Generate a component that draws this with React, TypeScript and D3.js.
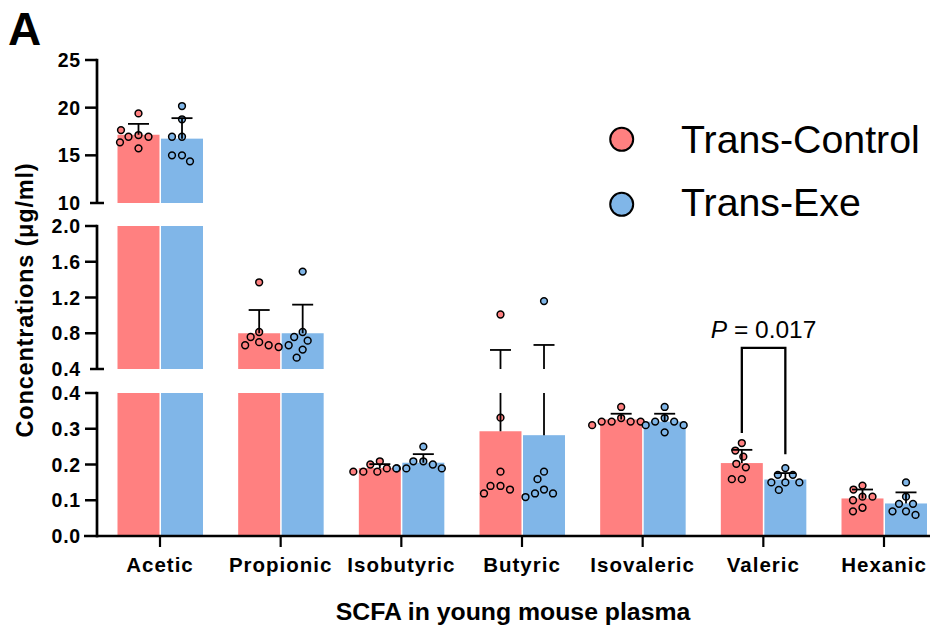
import React from "react";
import * as d3 from "d3";

const categories = ["Acetic", "Propionic", "Isobutyric", "Butyric", "Isovaleric", "Valeric", "Hexanic"];
const seriesNames = ["Trans-Control", "Trans-Exe"];
const seriesColors = ["#FF8080", "#80B6E8"];

const controlMean = [17.16, 0.8, 0.19, 0.293, 0.326, 0.204, 0.105];
const exeMean = [16.75, 0.8, 0.205, 0.282, 0.32, 0.158, 0.091];
const controlSD = [1.14, 0.26, 0.011, 0.32, 0.016, 0.037, 0.025];
const exeSD = [2.15, 0.32, 0.024, 0.387, 0.022, 0.018, 0.031];

const controlPoints = [
  [19.4, 17.13, 16.95, 16.95, 17.65, 16.36, 15.73],
  [1.37, 0.814, 0.758, 0.7, 0.666, 0.666, 0.646],
  [0.209, 0.2, 0.189, 0.189, 0.18, 0.18, 0.18],
  [1.01, 0.331, 0.18, 0.14, 0.14, 0.13, 0.119],
  [0.361, 0.33, 0.32, 0.32, 0.32, 0.32, 0.31],
  [0.26, 0.239, 0.222, 0.202, 0.192, 0.159, 0.159],
  [0.141, 0.13, 0.11, 0.11, 0.1, 0.079, 0.069],
];
const exePoints = [
  [20.17, 18.78, 16.95, 16.95, 15.0, 15.0, 14.37],
  [1.49, 0.814, 0.758, 0.717, 0.666, 0.617, 0.527],
  [0.25, 0.209, 0.209, 0.2, 0.189, 0.189, 0.189],
  [1.16, 0.18, 0.159, 0.13, 0.119, 0.119, 0.109],
  [0.361, 0.33, 0.32, 0.32, 0.31, 0.31, 0.29],
  [0.19, 0.171, 0.171, 0.15, 0.15, 0.15, 0.129],
  [0.15, 0.11, 0.09, 0.09, 0.069, 0.069, 0.059],
];

const topTicks = [10, 15, 20, 25];
const midTicks = [0.4, 0.8, 1.2, 1.6, 2.0];
const botTicks = [0, 0.1, 0.2, 0.3, 0.4];

const pValueLabel = "0.017";
const pCategory = "Valeric";
const bracketLeft = 0.288;
const bracketRight = 0.229;
const bracketTop = 0.526;

const FONT = "'Liberation Sans', Arial, Helvetica, sans-serif";

const yTop = d3.scaleLinear().domain([10, 25]).range([203, 60]);
const yMid = d3.scaleLinear().domain([0.4, 2.0]).range([369, 226]);
const yBot = d3.scaleLinear().domain([0, 0.4]).range([536, 393]);

const segments = [
  { lo: 0, hi: 0.4, s: yBot },
  { lo: 0.4, hi: 2.0, s: yMid },
  { lo: 10, hi: 25, s: yTop },
];

function yPix(v: number) {
  if (v <= 0.4) return yBot(v);
  if (v <= 2.0) return yMid(v);
  return yTop(v);
}

function spans(v0: number, v1: number) {
  const out: { y0: number; y1: number }[] = [];
  segments.forEach((seg) => {
    const a = Math.max(v0, seg.lo);
    const b = Math.min(v1, seg.hi);
    if (b > a) out.push({ y0: seg.s(a), y1: seg.s(b) });
  });
  return out;
}

function swarm(values: number[], D: number) {
  const placed: { dx: number; y: number }[] = [];
  values.forEach((v) => {
    const y = yPix(v);
    let best = 0;
    for (let k = 0; k < 60; k += 0.5) {
      let found = false;
      for (const cand of k === 0 ? [0] : [-k, k]) {
        const ok = placed.every((p) => (p.dx - cand) ** 2 + (p.y - y) ** 2 >= D * D);
        if (ok) {
          best = cand;
          found = true;
          break;
        }
      }
      if (found) break;
    }
    placed.push({ dx: best, y });
  });
  return placed;
}

export default function App() {
  const x = d3.scalePoint<string>().domain(categories).range([160, 884]);
  const inner = d3.scaleBand<number>().domain([0, 1]).range([-42.5, 43]).paddingInner(0.035);
  const bw = inner.bandwidth();

  const means = [controlMean, exeMean];
  const sds = [controlSD, exeSD];
  const pts = [controlPoints, exePoints];

  const axisW = 2.7;
  const axisX = 97;

  const yAxes = [
    { s: yTop, ticks: topTicks, fmt: (d: number) => d3.format("d")(d) },
    { s: yMid, ticks: midTicks, fmt: (d: number) => d3.format(".1f")(d) },
    { s: yBot, ticks: botTicks, fmt: (d: number) => d3.format(".1f")(d) },
  ];

  const pc = x(pCategory)!;
  const lx = pc + inner(0)! + bw / 2;
  const rx = pc + inner(1)! + bw / 2;

  return (
    <svg width={933} height={638} style={{ position: "absolute", left: 0, top: 0, background: "#fff" }} fontFamily={FONT}>
      <rect x={0} y={0} width={933} height={638} fill="#fff" />
      <text x={8} y={45} fontSize={46} fontWeight="bold">A</text>

      {/* bars */}
      {categories.map((c, i) =>
        [0, 1].map((s) => {
          const bx = x(c)! + inner(s)!;
          return spans(0, means[s][i]).map((sp, k) => (
            <rect key={`b${i}-${s}-${k}`} x={bx} y={sp.y1} width={bw} height={sp.y0 - sp.y1} fill={seriesColors[s]} />
          ));
        })
      )}

      {/* points */}
      {categories.map((c, i) =>
        [0, 1].map((s) => {
          const cx = x(c)! + inner(s)! + bw / 2;
          const placed = swarm(pts[s][i], 9.8);
          return placed.map((p, k) => (
            <circle key={`p${i}-${s}-${k}`} cx={cx + p.dx} cy={p.y} r={3.4} fill={seriesColors[s]} stroke="#000" strokeWidth={1.5} />
          ));
        })
      )}

      {/* error bars */}
      {categories.map((c, i) =>
        [0, 1].map((s) => {
          const cx = x(c)! + inner(s)! + bw / 2;
          const top = means[s][i] + sds[s][i];
          const yt = yPix(top);
          return (
            <g key={`e${i}-${s}`} stroke="#000" strokeWidth={1.8}>
              {spans(means[s][i], top).map((sp, k) => (
                <line key={k} x1={cx} x2={cx} y1={sp.y0} y2={sp.y1} />
              ))}
              <line x1={cx - 10.5} x2={cx + 10.5} y1={yt} y2={yt} />
            </g>
          );
        })
      )}

      {/* y axis segments */}
      {yAxes.map((ax, ai) => {
        const [r0, r1] = ax.s.range();
        return (
          <g key={`ya${ai}`}>
            <line x1={axisX} x2={axisX} y1={r0 + (ai === 2 ? axisW / 2 : 0)} y2={r1 - 1.2} stroke="#000" strokeWidth={axisW} />
            {ax.ticks.map((t) => {
              const y = ax.s(t);
              const isBottomEnd = ai < 2 && t === ax.s.domain()[0];
              return (
                <g key={t}>
                  {ai === 2 && t === 0 ? null : (
                    <line
                      x1={isBottomEnd ? 90 : 85}
                      x2={isBottomEnd ? 104 : axisX}
                      y1={y}
                      y2={y}
                      stroke="#000"
                      strokeWidth={2.5}
                    />
                  )}
                  <text x={81} y={y} dy="0.36em" textAnchor="end" fontSize={19.5} fontWeight="bold" letterSpacing={0.8}>
                    {ax.fmt(t)}
                  </text>
                </g>
              );
            })}
          </g>
        );
      })}

      {/* x axis */}
      <line x1={84} x2={930} y1={536} y2={536} stroke="#000" strokeWidth={axisW} />
      {categories.map((c) => (
        <g key={`xt${c}`}>
          <line x1={x(c)!} x2={x(c)!} y1={536} y2={547} stroke="#000" strokeWidth={2.2} />
          <text x={x(c)!} y={572} textAnchor="middle" fontSize={20.5} fontWeight="bold" letterSpacing={1}>
            {c}
          </text>
        </g>
      ))}
      <text x={513} y={620} textAnchor="middle" fontSize={24.8} fontWeight="bold">
        SCFA in young mouse plasma
      </text>
      <text
        transform={`translate(33,300) rotate(-90)`}
        textAnchor="middle"
        fontSize={23.5}
        fontWeight="bold"
        letterSpacing={0.8}
      >
        Concentrations (μg/ml)
      </text>

      {/* significance bracket */}
      <path
        d={`M${lx},${yBot(bracketLeft)} V${yBot(bracketTop)} H${rx} V${yBot(bracketRight)}`}
        fill="none"
        stroke="#000"
        strokeWidth={2.3}
      />
      <text x={(lx + rx) / 2} y={yBot(bracketTop) - 10} textAnchor="middle" fontSize={24.5}>
        <tspan fontStyle="italic">P</tspan> = {pValueLabel}
      </text>

      {/* legend */}
      {seriesNames.map((n, s) => (
        <g key={n}>
          <circle cx={621.7} cy={139.3 + s * 65} r={11.5} fill={seriesColors[s]} stroke="#000" strokeWidth={2} />
          <text x={681} y={152.5 + s * 63} fontSize={39.3}>
            {n}
          </text>
        </g>
      ))}
    </svg>
  );
}
